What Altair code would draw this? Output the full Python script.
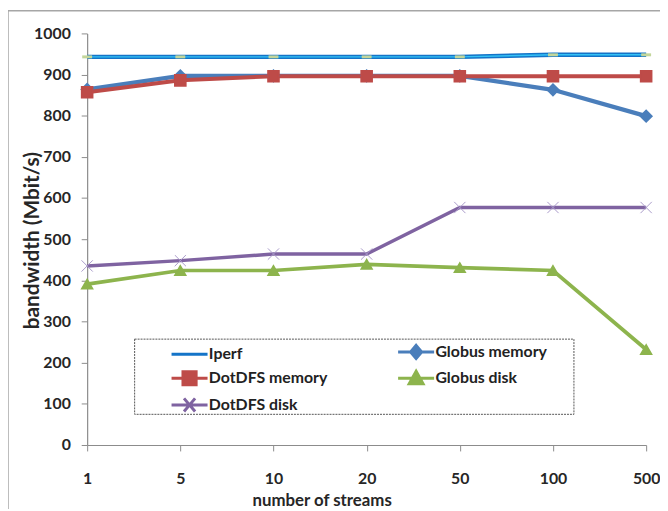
import altair as alt
import pandas as pd

streams = ["1", "5", "10", "20", "50", "100", "500"]
series_names = ["Iperf", "Globus memory", "DotDFS memory", "Globus disk", "DotDFS disk"]
iperf = [943, 943, 943, 943, 943, 948, 948]
globus_mem = [864, 897, 897, 897, 897, 863, 799]
dotdfs_mem = [857, 886, 896, 896, 896, 896, 896]
globus_disk = [391, 424, 424, 439, 431, 424, 232]
dotdfs_disk = [435, 448, 464, 464, 577, 577, 577]

values = [iperf, globus_mem, dotdfs_mem, globus_disk, dotdfs_disk]
rows = []
for name, vals in zip(series_names, values):
    for s, v in zip(streams, vals):
        rows.append({"series": name, "streams": s, "bandwidth": v})
df = pd.DataFrame(rows)

line_colors = ["#1474C8", "#4A7EBB", "#BE4B48", "#8DB44D", "#7F63A1"]
line_widths = [4.5, 3.5, 3.5, 3, 3]
marker_colors = ["#C3D69B", "#4A7EBB", "#BE4B48", "#8DB44D", "#A99BC9"]
marker_shapes = ["M-1,0L1,0", "diamond", "square", "triangle-up", "M-1,-1L1,1M-1,1L1,-1"]
marker_sizes = [100, 130, 200, 150, 130]
marker_strokes = [3, 1, 1, 1, 1.5]
# legend symbols: path units are 7px (symbol size 196)
legend_shapes = [
    "M-2.6,0L2.6,0",
    "M-2.6,0L2.6,0M0,-0.95L0.8,0L0,0.95L-0.8,0Z",
    "M-2.6,0L2.6,0M-0.95,-0.95L0.95,-0.95L0.95,0.95L-0.95,0.95Z",
    "M-2.6,0L2.6,0M0,-1L1,0.8L-1,0.8Z",
    "M-2.6,0L2.6,0M-0.8,-0.95L0.8,0.95M-0.8,0.95L0.8,-0.95",
]

FONT = "Lato"
x_enc = alt.X("streams:O", sort=streams,
              scale=alt.Scale(type="point", padding=0),
              axis=alt.Axis(title="number of streams", labelAngle=0,
                            titleX=237, titleY=56, titleBaseline="middle",
                            titleFontSize=17,
                            labelPadding=20, tickSize=6))
y_enc = alt.Y("bandwidth:Q", scale=alt.Scale(domain=[0, 1000], nice=False),
              axis=alt.Axis(title="bandwidth (Mbit/s)", values=list(range(0, 1001, 100)),
                            format="d", grid=False, tickSize=6, labelPadding=11,
                            titleX=-55, titleY=209, titleBaseline="middle",
                            titleFontSize=21))

base = alt.Chart(df)

frame = alt.Chart(alt.Data(values=[{}])).mark_rect(
    fill="transparent", stroke="#A6A6A6", strokeWidth=1.5
).encode(x=alt.value(-80), x2=alt.value(700), y=alt.value(-23), y2=alt.value(600))

legend_box = alt.Chart(alt.Data(values=[{}])).mark_rect(
    fill="white", stroke="#555555", strokeWidth=1, strokeDash=[2, 1]
).encode(x=alt.value(48), x2=alt.value(492), y=alt.value(309), y2=alt.value(385))

lines = base.mark_line().encode(
    x=x_enc, y=y_enc,
    color=alt.Color("series:N", scale=alt.Scale(domain=series_names, range=line_colors), legend=None),
    strokeWidth=alt.StrokeWidth("series:N", scale=alt.Scale(domain=series_names, range=line_widths), legend=None),
)

iperf_glow = base.transform_filter(alt.datum.series == "Iperf").mark_line(
    color="#35C2F5", strokeWidth=1.5
).encode(x=x_enc, y=y_enc)

points = base.mark_point(opacity=1).encode(
    x=x_enc, y=y_enc,
    fill=alt.Fill("series:N", scale=alt.Scale(domain=series_names, range=marker_colors), legend=None),
    stroke=alt.Stroke("series:N", scale=alt.Scale(domain=series_names, range=marker_colors), legend=None),
    shape=alt.Shape("series:N", scale=alt.Scale(domain=series_names, range=marker_shapes), legend=None),
    size=alt.Size("series:N", scale=alt.Scale(domain=series_names, range=marker_sizes), legend=None),
    strokeWidth=alt.StrokeWidth("series:N", scale=alt.Scale(domain=series_names, range=marker_strokes), legend=None),
)

leg = alt.Legend(title=None, orient="none", legendX=85, legendY=313, columns=2,
                 direction="horizontal",
                 columnPadding=65, rowPadding=0, symbolSize=196, symbolStrokeWidth=3,
                 symbolOffset=10,
                 labelFont=FONT, labelFontSize=16, labelFontWeight="bold", labelColor="#222222",
                 labelOffset=11, padding=0, symbolOpacity=1)

dummy = base.transform_filter("false").mark_point(opacity=1).encode(
    x=x_enc, y=y_enc,
    fill=alt.Fill("series:N", scale=alt.Scale(domain=series_names, range=line_colors), legend=leg, sort=series_names),
    stroke=alt.Stroke("series:N", scale=alt.Scale(domain=series_names, range=line_colors), legend=leg, sort=series_names),
    shape=alt.Shape("series:N", scale=alt.Scale(domain=series_names, range=legend_shapes), legend=leg, sort=series_names),
)

chart = alt.layer(frame, legend_box, lines, iperf_glow, points, dummy).resolve_scale(
    fill="independent", stroke="independent", shape="independent", strokeWidth="independent"
).properties(
    width=565, height=416,
    autosize=alt.AutoSizeParams(type="none"),
    padding={"left": 80, "top": 23, "right": 14, "bottom": 62},
).configure_view(stroke=None).configure_axis(
    labelFont=FONT, labelFontSize=16, labelFontWeight="bold", labelColor="#262626",
    titleFont=FONT, titleFontSize=16, titleFontWeight="bold", titleColor="#262626",
    domainColor="#8C8C8C", tickColor="#8C8C8C", domainWidth=1.2,
)

chart.save("out.html", embed_options={"renderer": "svg", "actions": False})
